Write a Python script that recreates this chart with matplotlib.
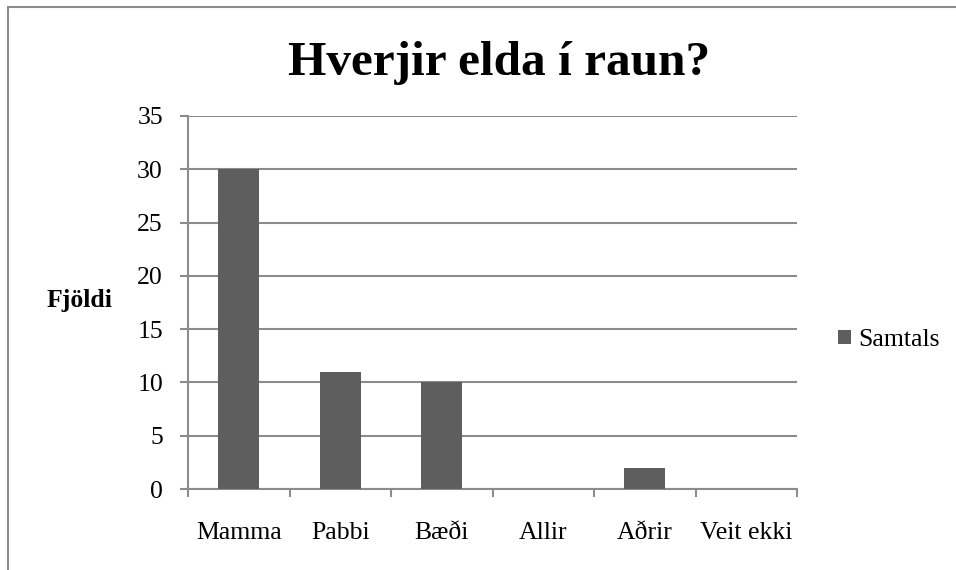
import matplotlib
matplotlib.use("Agg")
import numpy as np
from matplotlib import pyplot as plt
from matplotlib.patches import Rectangle

# data
categories = ["Mamma", "Pabbi", "Bæði", "Allir", "Aðrir", "Veit ekki"]
samtals = [30, 11, 10, 0, 2, 0]
yticks = [0, 5, 10, 15, 20, 25, 30, 35]

plt.rcParams['font.family'] = ['Liberation Serif', 'DejaVu Serif']
grey = '#8c8c8c'
bar_col = '#5e5e5e'

fig = plt.figure(figsize=(9.56, 5.70), dpi=100)
ax = fig.add_axes([188/956, 1 - 489/570, 609/956, 373/570])

x = np.arange(len(categories))
ax.bar(x, samtals, width=0.4, color=bar_col, label="Samtals", zorder=3)

ax.set_xlim(-0.5, len(categories) - 0.5)
ax.set_ylim(0, 35)
ax.set_yticks(yticks)
ax.yaxis.grid(True, color=grey, lw=1.5, zorder=0)
ax.tick_params(axis='y', direction='out', length=6, width=1.5, color=grey,
               labelsize=18.5, pad=12)

# category boundaries get the tick marks, labels sit in the middle
ax.set_xticks(np.arange(-0.5, len(categories)), labels=[])
ax.set_xticks(x, labels=categories, minor=True)
ax.tick_params(axis='x', which='major', direction='out', length=6, width=1.5, color=grey)
ax.tick_params(axis='x', which='minor', length=0, labelsize=18.5, pad=24)

for s in ['top', 'right']:
    ax.spines[s].set_visible(False)
for s in ['left', 'bottom']:
    ax.spines[s].set_color(grey)
    ax.spines[s].set_linewidth(1.5)

fig.text(499/956, 1 - 63/570, "Hverjir elda í raun?", ha='center', va='center',
         fontsize=35.5, fontweight='bold')
fig.text(80/956, 1 - 300/570, "Fjöldi", ha='center', va='center',
         fontsize=18.5, fontweight='bold')

fig.legend(loc='center left', bbox_to_anchor=(838/956, 1 - 340/570), frameon=False,
           fontsize=18.5, handlelength=0.5, handleheight=0.5, handletextpad=0.27,
           borderpad=0, borderaxespad=0)

# outer chart border (right and bottom run off the picture)
fig.patches.append(Rectangle((8/956, -0.1), 1.2, 1.1 - 7/570, transform=fig.transFigure,
                             fill=False, edgecolor=grey, lw=1.5))

fig.savefig("out.png", dpi=100)
